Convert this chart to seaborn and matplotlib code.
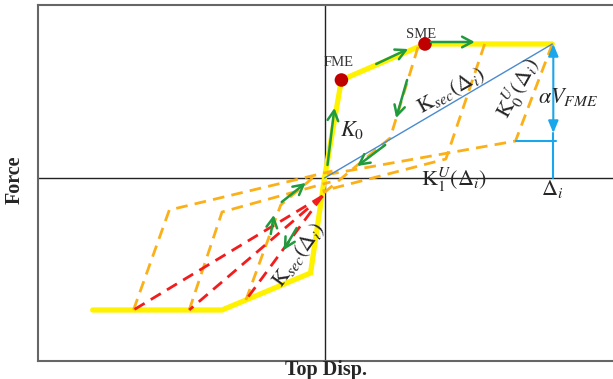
import numpy as np
import pandas as pd
import matplotlib
matplotlib.use("Agg")
import matplotlib.pyplot as plt
import seaborn as sns

# ---- schematic values (arbitrary displacement / force units) ----
# backbone (monotonic envelope), negative to positive
backbone_disp = [-233, -103, -14, 0, 17, 101, 229]
backbone_force = [-132, -132, -95, 0, 98, 134, 134]

# performance milestones on the backbone
milestone_names = ["FME", "SME"]
milestone_disp = [17, 101]
milestone_force = [98, 134]

# unloading branches from positive peaks (K0U then K1U)
unload_1_disp = [94, 66, -2]
unload_1_force = [131, 40, -16]
unload_2_disp = [161, 122, -2]
unload_2_force = [134, 19, -13]
unload_3_disp = [229, 192, 0]
unload_3_force = [134, 37, 3]

# reloading branches from negative peaks
reload_1_disp = [-79, -44, -12]
reload_1_force = [-122, -27, 0]
reload_2_disp = [-136, -103, 6]
reload_2_force = [-132, -34, -4]
reload_3_disp = [-192, -156, 8]
reload_3_force = [-132, -32, 7]

# secant reloading toward negative peaks
secant_start = (-2, -18)
secant_end_disp = [-192, -136, -79]
secant_end_force = [-132, -132, -122]

# secant stiffness at target drift
delta_i = 229
v_at_delta = 134
alpha_v_fme = 97

# loading-direction arrows: (tail_disp, tail_force, head_disp, head_force)
path_arrows = [
    (3, 13, 10, 70),
    (52, 114, 84, 129),
    (107, 136, 151, 136),
    (83, 98, 72, 60),
    (61, 33, 33, 12),
    (-28, -50, -41, -72),
    (-54, -56, -51, -37),
    (-43, -24, -19, -5),
]

# ---- styling ----
sns.set_theme(style="white")
plt.rcParams["font.family"] = ["Liberation Serif", "DejaVu Serif"]
plt.rcParams["mathtext.fontset"] = "stix"

YELLOW = "#fff200"
ORANGE = "#fbb018"
RED = "#f21c1c"
GREEN = "#1f9a3c"
BLUE = "#4a8ad0"
CYAN = "#1aa6ea"
DOT = "#c00000"

fig = plt.figure(figsize=(6.13, 3.79), dpi=100)
ax = fig.add_axes([38 / 613, 18 / 379, 1 - 38 / 613, 356 / 379])
ax.set_xlim(-288, 290)
ax.set_ylim(-183, 173)

dash = (0, (4.2, 2.6))

# backbone
sns.lineplot(x=backbone_disp, y=backbone_force, sort=False, estimator=None,
             color=YELLOW, lw=3.8, ax=ax, zorder=2,
             solid_joinstyle="miter")

# unloading / reloading branches
for xs, ys in [(unload_1_disp, unload_1_force), (unload_2_disp, unload_2_force),
               (unload_3_disp, unload_3_force), (reload_1_disp, reload_1_force),
               (reload_2_disp, reload_2_force), (reload_3_disp, reload_3_force)]:
    sns.lineplot(x=xs, y=ys, sort=False, estimator=None, color=ORANGE,
                 lw=2.0, linestyle=dash, ax=ax, zorder=3)

for ex, ey in zip(secant_end_disp, secant_end_force):
    sns.lineplot(x=[secant_start[0], ex], y=[secant_start[1], ey], sort=False,
                 estimator=None, color=RED, lw=2.0, linestyle=dash, ax=ax,
                 zorder=3)

# secant stiffness line
sns.lineplot(x=[0, delta_i], y=[0, v_at_delta], sort=False, estimator=None,
             color=BLUE, lw=1.0, ax=ax, zorder=3)

# milestones
ms = pd.DataFrame({"disp": milestone_disp, "force": milestone_force,
                   "name": milestone_names})
sns.scatterplot(data=ms, x="disp", y="force", color=DOT, s=95, ax=ax,
                zorder=5, edgecolor="none")
ax.text(14, 109, "FME", fontsize=10.5, color="#333333", ha="center", va="bottom")
ax.text(97, 137, "SME", fontsize=10.5, color="#333333", ha="center", va="bottom")

# alpha * V_FME drop at target drift
x_arrow = delta_i + 1
y_low = v_at_delta - alpha_v_fme
ax.annotate("", xy=(x_arrow, v_at_delta), xytext=(x_arrow, y_low + 8),
            arrowprops=dict(arrowstyle="<|-|>,head_length=0.6,head_width=0.25",
                            color=CYAN, lw=1.5, shrinkA=0, shrinkB=0), zorder=4)
ax.plot([x_arrow, x_arrow], [0, y_low + 8], color=CYAN, lw=1.5, zorder=4)
ax.plot([192, x_arrow + 3], [y_low] * 2, color=CYAN, lw=1.5, zorder=4)

# loading direction arrows
for x0, y0, x1, y1 in path_arrows:
    ax.annotate("", xy=(x1, y1), xytext=(x0, y0),
                arrowprops=dict(arrowstyle="->,head_length=0.6,head_width=0.32",
                                color=GREEN, lw=1.8, shrinkA=0, shrinkB=0),
                zorder=6)

# axes through the origin
ax.axhline(0, color="#222222", lw=1.0, zorder=1)
ax.axvline(0, color="#222222", lw=1.0, zorder=1)

# stiffness labels
fs = 16
ax.text(28, 48, r"$K_0$", fontsize=fs, ha="center", va="center")
ax.text(127, 87, r"$\mathrm{K}_{sec}(\Delta_i)$", fontsize=fs, ha="center",
        va="center", rotation=29, rotation_mode="anchor")
ax.text(195, 90, r"$\mathrm{K}_0^U(\Delta_i)$", fontsize=fs, ha="center",
        va="center", rotation=61, rotation_mode="anchor")
ax.text(215, 81, r"$\alpha V_{FME}$", fontsize=fs, ha="left", va="center",
        zorder=5)
ax.text(130, -2, r"$\mathrm{K}_1^U(\Delta_i)$", fontsize=fs, ha="center",
        va="center")
ax.text(delta_i, -11, r"$\Delta_i$", fontsize=fs, ha="center", va="center")
ax.text(-26, -77, r"$\mathrm{K}_{sec}(\Delta_i)$", fontsize=fs, ha="center",
        va="center", rotation=54, rotation_mode="anchor")

# frame
ax.set_xticks([])
ax.set_yticks([])
ax.set_xlabel("")
ax.set_ylabel("")
for side in ["left", "top", "bottom"]:
    ax.spines[side].set_color("#666666")
    ax.spines[side].set_linewidth(1.5)
ax.spines["right"].set_visible(False)

fig.text(326 / 613, 1 - 370 / 379, "Top Disp.", fontsize=14.5,
         fontweight="bold", ha="center", va="center")
fig.text(15 / 613, 1 - 180 / 379, "Force", fontsize=14.5, fontweight="bold",
         ha="center", va="center", rotation=90)

fig.savefig("out.png", dpi=100)
